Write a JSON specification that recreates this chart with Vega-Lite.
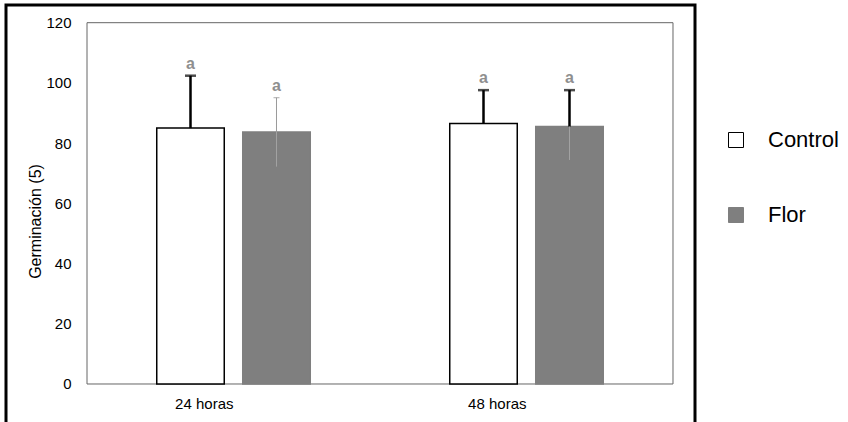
{
  "$schema": "https://vega.github.io/schema/vega-lite/v6.json",
  "width": 689,
  "height": 424,
  "autosize": {"type": "none"},
  "padding": {"left": 6, "top": 5, "right": 153, "bottom": 0},
  "background": "white",
  "config": {
    "view": {"stroke": "black", "strokeWidth": 3},
    "font": "Liberation Sans",
    "axis": {"labelFont": "Liberation Sans", "titleFont": "Liberation Sans", "labelColor": "black", "titleColor": "black", "grid": false, "domain": false, "ticks": false},
    "legend": {"labelFont": "Liberation Sans", "labelColor": "black"}
  },
  "data": {
    "values": [
      {"time": "24 horas", "group": "Control", "value": 85.0, "lower": 67.6, "upper": 102.4, "sig": "a"},
      {"time": "24 horas", "group": "Flor", "value": 83.7, "lower": 72.2, "upper": 95.1, "sig": "a"},
      {"time": "48 horas", "group": "Control", "value": 86.5, "lower": 75.4, "upper": 97.6, "sig": "a"},
      {"time": "48 horas", "group": "Flor", "value": 85.5, "lower": 74.4, "upper": 97.6, "sig": "a"}
    ]
  },
  "layer": [
    {
      "data": {"values": [{"box": 1}]},
      "mark": {"type": "rect", "fill": "transparent", "stroke": "#666666", "strokeWidth": 1},
      "encoding": {
        "x": {"datum": "24 horas", "type": "nominal", "bandPosition": 0},
        "x2": {"datum": "48 horas", "bandPosition": 1},
        "y": {"datum": 0, "type": "quantitative"},
        "y2": {"datum": 120}
      }
    },
    {
      "mark": {"type": "bar", "strokeWidth": 1.5},
      "encoding": {
        "x": {
          "field": "time", "type": "nominal", "sort": null,
          "scale": {"paddingInner": 0, "paddingOuter": 0.17577, "align": 0.7864},
          "axis": {"title": null, "labelAngle": 0, "labelFontSize": 15, "labelPadding": 19, "offset": -45}
        },
        "xOffset": {"field": "group", "type": "nominal", "sort": null, "scale": {"paddingInner": 0.215, "paddingOuter": 0.811}},
        "y": {
          "field": "value", "type": "quantitative",
          "scale": {"domain": [-14.95, 125.88], "nice": false, "zero": false},
          "axis": {"title": "Germinación (5)", "titleFontSize": 16, "titleFontWeight": "normal", "titleX": -52, "titleY": 216, "titleBaseline": "middle", "titleAngle": -90, "values": [0, 20, 40, 60, 80, 100, 120], "labelFontSize": 15, "labelPadding": 16, "offset": -81}
        },
        "y2": {"datum": 0},
        "fill": {
          "field": "group", "type": "nominal",
          "scale": {"domain": ["Control", "Flor"], "range": ["white", "#7f7f7f"]},
          "legend": {"title": null, "orient": "none", "legendX": 719, "legendY": 124, "padding": 0, "symbolType": "square", "symbolSize": 225, "symbolStrokeWidth": 1, "labelFontSize": 22, "labelOffset": 21, "rowPadding": 53}
        },
        "stroke": {
          "field": "group", "type": "nominal",
          "scale": {"domain": ["Control", "Flor"], "range": ["black", "#7f7f7f"]},
          "legend": {"title": null, "orient": "none", "legendX": 719, "legendY": 124, "padding": 0, "symbolType": "square", "symbolSize": 225, "symbolStrokeWidth": 1, "labelFontSize": 22, "labelOffset": 21, "rowPadding": 53}
        }
      }
    },
    {
      "mark": {"type": "rule"},
      "encoding": {
        "x": {"field": "time", "type": "nominal", "sort": null},
        "xOffset": {"field": "group", "type": "nominal", "sort": null},
        "y": {"field": "value", "type": "quantitative"},
        "y2": {"field": "upper"},
        "color": {"condition": {"test": "datum.group === 'Flor' && datum.time === '24 horas'", "value": "#9a9a9a"}, "value": "black"},
        "strokeWidth": {"condition": {"test": "datum.group === 'Flor' && datum.time === '24 horas'", "value": 1}, "value": 2.5}
      }
    },
    {
      "transform": [{"filter": "datum.group === 'Flor'"}],
      "mark": {"type": "rule", "color": "#a3a3a3", "strokeWidth": 1},
      "encoding": {
        "x": {"field": "time", "type": "nominal", "sort": null},
        "xOffset": {"field": "group", "type": "nominal", "sort": null},
        "y": {"field": "lower", "type": "quantitative"},
        "y2": {"field": "value"}
      }
    },
    {
      "transform": [{"filter": "!(datum.group === 'Flor' && datum.time === '24 horas')"}],
      "mark": {"type": "tick", "orient": "horizontal", "thickness": 2.5, "color": "black", "size": 11},
      "encoding": {
        "x": {"field": "time", "type": "nominal", "sort": null},
        "xOffset": {"field": "group", "type": "nominal", "sort": null},
        "y": {"field": "upper", "type": "quantitative"}
      }
    },
    {
      "transform": [{"filter": "datum.group === 'Flor' && datum.time === '24 horas'"}],
      "mark": {"type": "tick", "orient": "horizontal", "thickness": 1.2, "color": "#9a9a9a", "size": 6},
      "encoding": {
        "x": {"field": "time", "type": "nominal", "sort": null},
        "xOffset": {"field": "group", "type": "nominal", "sort": null},
        "y": {"field": "upper", "type": "quantitative"}
      }
    },
    {
      "mark": {"type": "text", "color": "#8f8f8f", "fontSize": 16, "fontWeight": "bold", "baseline": "middle", "dy": -12, "font": "Liberation Sans"},
      "encoding": {
        "x": {"field": "time", "type": "nominal", "sort": null},
        "xOffset": {"field": "group", "type": "nominal", "sort": null},
        "y": {"field": "upper", "type": "quantitative"},
        "text": {"field": "sig"}
      }
    }
  ]
}
